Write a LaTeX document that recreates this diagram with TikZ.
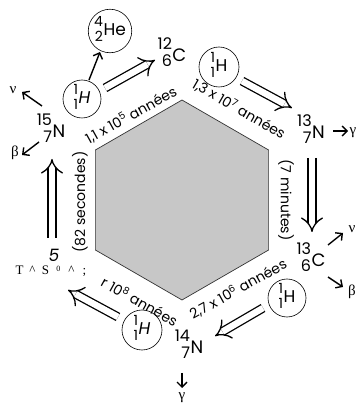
\documentclass[tikz,border=0pt]{standalone}
\usepackage{fontspec}
\setmainfont{Poppins}
\newfontfamily\grk{Liberation Serif}
\usetikzlibrary{arrows.meta,calc}
\newcommand\nuc[3]{{\fontsize{16}{17}\selectfont\begin{tabular}[c]{@{}r@{}}#1\\#2\end{tabular}}\kern0.5pt\raisebox{-2pt}{#3}}
\newcommand\isot[3]{{\fontsize{14}{15}\selectfont\begin{tabular}[c]{@{}r@{}}#1\\#2\end{tabular}}\kern0.5pt\raisebox{-1pt}{#3}}
\newcommand\ann[2]{#1 x 10\textsuperscript{#2} années}
\begin{document}
\begin{tikzpicture}[x=1pt,y=1pt,
  lab/.style={font=\fontsize{14}{14}\selectfont, inner sep=0pt},
  nucnode/.style={font=\fontsize{18}{18}\selectfont, inner sep=0pt},
  iso/.style={circle, draw, line width=0.6pt, inner sep=0pt, minimum size=38pt, font=\fontsize{17}{17}\selectfont},
  grkl/.style={font=\grk\fontsize{15}{15}\selectfont, inner sep=0pt},
  sarr/.style={line width=1.4pt, -{Straight Barb[length=5pt,width=10pt,line width=1.4pt]}},
  darr/.style={double, double distance=6.5pt, line width=1.3pt, -{Implies}},
  hexa/.style={draw=black!80, line width=0.7pt, fill=black!22}
]
\useasboundingbox (0,0) rectangle (356,405);
% hexagon
\coordinate (hc) at (182,205);
\draw[hexa] (hc) +(90:100) -- +(30:100) -- +(-30:100) -- +(-90:100) -- +(-150:100) -- +(150:100) -- cycle;
% isotope circles
\node[iso, minimum size=36pt] (he) at (110,374) {\isot{4}{2}{He}};
\node[iso] (hUL) at (82,306) {\isot{1}{1}{\itshape H}};
\node[iso, minimum size=40pt] (hUR) at (219,338) {\isot{1}{1}{H}};
\node[iso] (hLR) at (287,107) {\isot{1}{1}{H}};
\node[iso, minimum size=40pt] (hLL) at (142,75) {\isot{1}{1}{\itshape H}};
% nuclides
\node[nucnode] (c12) at (172,350) {\nuc{12}{6}{C}};
\node[nucnode] (n13) at (311,273) {\nuc{13}{7}{N}};
\node[nucnode] (c13) at (311,145) {\nuc{13}{6}{C}};
\node[nucnode] (n14) at (189,58) {\nuc{14}{7}{N}};
\node[nucnode] (n15) at (51,274) {\nuc{15}{7}{N}};
\node[font=\fontsize{17}{17}\selectfont\itshape, inner sep=0pt] (five) at (54,150) {5};
\node[font=\grk\fontsize{13}{13}\selectfont, inner sep=0pt] (o15) at (52,134)
  {\makebox[13pt]{T}\makebox[13pt]{\textasciicircum}\makebox[13pt]{S}\makebox[13pt]{\raisebox{3pt}{\fontsize{8}{8}\selectfont 0}}\makebox[13pt]{\textasciicircum}\makebox[13pt]{;}};
% greek labels
\node[grkl] (nu1) at (13,315) {ν};
\node[grkl] (beta1) at (15,252) {β};
\node[grkl] (gam1) at (353,272) {γ};
\node[grkl] (nu2) at (352,176) {ν};
\node[grkl] (beta2) at (352,113) {β};
\node[grkl] (gam2) at (182,7) {γ};
% time labels
\node[lab, rotate=29] (t1) at (131,290) {\ann{1,1}{5}};
\node[lab, rotate=-30] (t2) at (239,296) {\ann{1,3}{7}};
\node[lab, rotate=-90] (t3) at (286,205) {(7 minutes)};
\node[lab, rotate=29] (t4) at (238,116) {\ann{2,7}{6}};
\node[lab, rotate=-29] (t5) at (140,104) {r 10\textsuperscript{8} années};
\node[lab, rotate=90] (t6) at (80,203) {(82 secondes)};
% single arrows
\draw[sarr] ([shift={(7,19)}]hUL.center) -- ([shift={(-10,-21)}]he.center);
\draw[sarr] ([shift={(17,15)}]c13.center) -- ([shift={(-9,-4)}]nu2.center);
\draw[sarr] ([shift={(17,-17)}]c13.center) -- ([shift={(-9,5)}]beta2.center);
\draw[sarr] ([shift={(22,1)}]n13.center) -- ([shift={(-5,2)}]gam1.center);
\draw[sarr] ([shift={(-7,-26)}]n14.center) -- ([shift={(0,10)}]gam2.center);
\draw[sarr] ([shift={(-9,25)}]n15.center) -- ([shift={(9,-2)}]nu1.center);
\draw[sarr] ([shift={(-12,-11)}]n15.center) -- ([shift={(7,-2)}]beta1.center);
% double arrows
\draw[darr] ([shift={(23,11)}]hUL.center) -- ([shift={(-17,-5)}]c12.center);
\draw[darr] ([shift={(23,-14)}]hUR.center) -- ([shift={(-19,24)}]n13.center);
\draw[darr] ([shift={(1,-26)}]n13.center) -- ([shift={(1,28)}]c13.center);
\draw[darr] ([shift={(-24,-10)}]hLR.center) -- ([shift={(26,11)}]n14.center);
\draw[darr] ([shift={(-24,13)}]hLL.center) -- ([shift={(16,-19)}]o15.center);
\draw[darr] ([shift={(-2,17)}]five.center) -- ([shift={(1,-28)}]n15.center);
\end{tikzpicture}
\end{document}
